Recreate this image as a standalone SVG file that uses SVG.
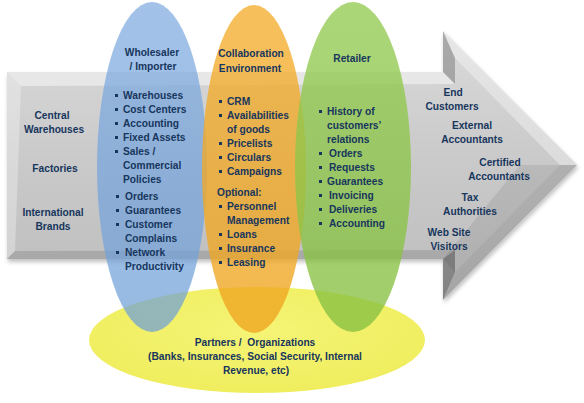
<svg xmlns="http://www.w3.org/2000/svg" width="584" height="403" viewBox="0 0 584 403">
<defs>
<linearGradient id="face" x1="0" y1="0" x2="0" y2="1">
<stop offset="0" stop-color="#DADADA"/>
<stop offset="0.5" stop-color="#C9C9C9"/>
<stop offset="1" stop-color="#BDBDBD"/>
</linearGradient>
<linearGradient id="gBlue" x1="0" y1="0" x2="0" y2="1">
<stop offset="0" stop-color="#7EAAE0"/>
<stop offset="1" stop-color="#6E9FD8"/>
</linearGradient>
<linearGradient id="gOrange" x1="0" y1="0" x2="0" y2="1">
<stop offset="0" stop-color="#F4AE2E"/>
<stop offset="1" stop-color="#EFA41E"/>
</linearGradient>
<linearGradient id="gGreen" x1="0" y1="0" x2="0" y2="1">
<stop offset="0" stop-color="#94CB52"/>
<stop offset="1" stop-color="#86C040"/>
</linearGradient>
<radialGradient id="gYellow" cx="0.5" cy="0.4" r="0.6">
<stop offset="0" stop-color="#F4F36A"/>
<stop offset="1" stop-color="#EEEC50"/>
</radialGradient>
<filter id="sh" x="-10%" y="-10%" width="120%" height="130%">
<feGaussianBlur in="SourceAlpha" stdDeviation="2"/>
<feOffset dx="1" dy="3" result="o"/>
<feComponentTransfer><feFuncA type="linear" slope="0.25"/></feComponentTransfer>
<feMerge><feMergeNode/><feMergeNode in="SourceGraphic"/></feMerge>
</filter>
</defs>
<style>
text{font-family:"Liberation Sans",Arial,sans-serif;font-weight:bold;font-size:10.2px;fill:#17365D}
.m{text-anchor:middle}
.b{fill:#17365D}
.pre{white-space:pre}
</style>
<rect width="584" height="403" fill="#FFFFFF"/>
<g id="flow-arrow" filter="url(#sh)">
<polygon points="7,72 443,72 443,31 577,165 443,300 443,259 7,259" fill="url(#face)"/>
<polygon points="7,72 443,72 455,84 21,86" fill="#FFFFFF" opacity="0.45"/>
<polygon points="7,72 21,86 15,251 7,259" fill="#FFFFFF" opacity="0.3"/>
<polygon points="443,31 455,58 455,84 443,72" fill="#000000" opacity="0.22"/>
<polygon points="443,31 577,165 560,165 455,58" fill="#FFFFFF" opacity="0.35"/>
<polygon points="577,165 443,300 455,272 560,165" fill="#000000" opacity="0.12"/>
<polygon points="443,300 443,259 455,250 455,272" fill="#000000" opacity="0.3"/>
<polygon points="443,259 7,259 15,251 455,250" fill="#000000" opacity="0.12"/>
<polygon points="455,272 560,165 520,165 443,259" fill="#000000" opacity="0.08"/>
</g>
<g id="partners">
<ellipse cx="257" cy="340" rx="168" ry="53" fill="url(#gYellow)" opacity="0.92"/>
</g>
<g id="wholesaler">
<ellipse cx="152" cy="167" rx="55" ry="165" fill="url(#gBlue)" opacity="0.72"/>
</g>
<g id="collaboration">
<ellipse cx="254" cy="169" rx="52" ry="164" fill="url(#gOrange)" opacity="0.78"/>
</g>
<g id="retailer">
<ellipse cx="353" cy="167" rx="58" ry="165" fill="url(#gGreen)" opacity="0.78"/>
</g>
<g id="wholesaler-text">
<text x="152" y="56" class="m">Wholesaler</text>
<text x="153" y="70" class="m">/ Importer</text>
<rect class="b" x="115" y="94" width="3" height="3"/><text x="123" y="99">Warehouses</text>
<rect class="b" x="115" y="108" width="3" height="3"/><text x="123" y="113">Cost Centers</text>
<rect class="b" x="115" y="122" width="3" height="3"/><text x="123" y="127">Accounting</text>
<rect class="b" x="115" y="136" width="3" height="3"/><text x="123" y="141">Fixed Assets</text>
<rect class="b" x="115" y="150" width="3" height="3"/><text x="123" y="155">Sales /</text>
<text x="123" y="169">Commercial</text>
<text x="123" y="183">Policies</text>
<rect class="b" x="116" y="195" width="3" height="3"/><text x="125" y="200">Orders</text>
<rect class="b" x="116" y="209" width="3" height="3"/><text x="125" y="214">Guarantees</text>
<rect class="b" x="116" y="223" width="3" height="3"/><text x="125" y="228">Customer</text>
<text x="125" y="242">Complains</text>
<rect class="b" x="116" y="251" width="3" height="3"/><text x="125" y="256">Network</text>
<text x="125" y="270">Productivity</text>
</g>
<g id="collaboration-text">
<text x="251" y="57" class="m">Collaboration</text>
<text x="250" y="72" class="m">Environment</text>
<rect class="b" x="219" y="100" width="3" height="3"/><text x="227" y="105">CRM</text>
<rect class="b" x="219" y="114" width="3" height="3"/><text x="227" y="119">Availabilities</text>
<text x="227" y="133">of  goods</text>
<rect class="b" x="219" y="142" width="3" height="3"/><text x="227" y="147">Pricelists</text>
<rect class="b" x="219" y="156" width="3" height="3"/><text x="227" y="161">Circulars</text>
<rect class="b" x="219" y="170" width="3" height="3"/><text x="227" y="175">Campaigns</text>
<text x="217" y="196">Optional:</text>
<rect class="b" x="219" y="205" width="3" height="3"/><text x="227" y="210">Personnel</text>
<text x="227" y="224">Management</text>
<rect class="b" x="219" y="233" width="3" height="3"/><text x="227" y="238">Loans</text>
<rect class="b" x="219" y="247" width="3" height="3"/><text x="227" y="252">Insurance</text>
<rect class="b" x="219" y="261" width="3" height="3"/><text x="227" y="266">Leasing</text>
</g>
<g id="retailer-text">
<text x="352" y="62" class="m">Retailer</text>
<rect class="b" x="319" y="110" width="3" height="3"/><text x="327" y="115">History of</text>
<text x="327" y="129">customers’</text>
<text x="327" y="143">relations</text>
<rect class="b" x="319" y="152" width="3" height="3"/><text x="329" y="157">Orders</text>
<rect class="b" x="319" y="166" width="3" height="3"/><text x="329" y="171">Requests</text>
<rect class="b" x="319" y="180" width="3" height="3"/><text x="327" y="185">Guarantees</text>
<rect class="b" x="319" y="194" width="3" height="3"/><text x="329" y="199">Invoicing</text>
<rect class="b" x="319" y="208" width="3" height="3"/><text x="329" y="213">Deliveries</text>
<rect class="b" x="319" y="222" width="3" height="3"/><text x="329" y="227">Accounting</text>
</g>
<g id="sources">
<text x="52" y="119" class="m">Central</text>
<text x="54" y="133" class="m">Warehouses</text>
<text x="55" y="172" class="m">Factories</text>
<text x="53" y="216" class="m">International</text>
<text x="53" y="230" class="m">Brands</text>
</g>
<g id="targets">
<text x="453" y="96" class="m">End</text>
<text x="452" y="110" class="m">Customers</text>
<text x="472" y="129" class="m">External</text>
<text x="472" y="143" class="m">Accountants</text>
<text x="500" y="166" class="m">Certified</text>
<text x="499" y="180" class="m">Accountants</text>
<text x="470" y="201" class="m">Tax</text>
<text x="470" y="215" class="m">Authorities</text>
<text x="449" y="236" class="m">Web Site</text>
<text x="449" y="250" class="m">Visitors</text>
</g>
<g id="partners-text">
<text x="255" y="346" class="m pre">Partners /  Organizations</text>
<text x="255" y="360" class="m">(Banks, Insurances, Social Security, Internal</text>
<text x="256" y="374" class="m">Revenue, etc)</text>
</g>
</svg>
